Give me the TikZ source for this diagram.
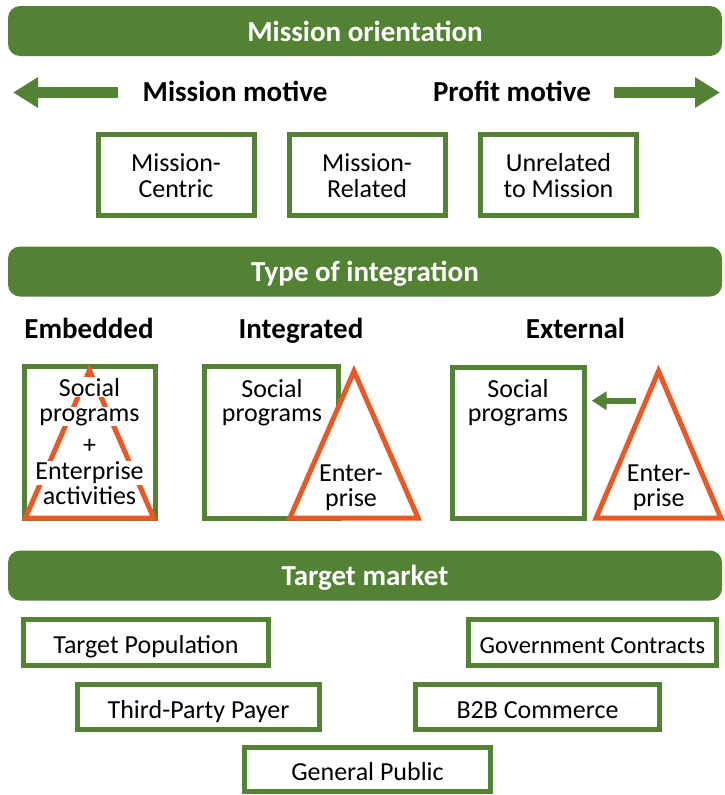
\documentclass[tikz,border=0pt]{standalone}
\usepackage{fontspec}
\setmainfont{Carlito}
\usetikzlibrary{arrows.meta}
\definecolor{grn}{RGB}{84,130,53}
\definecolor{org}{RGB}{235,88,36}
\begin{document}
\begin{tikzpicture}[x=1pt,y=-1pt,
 banner/.style={fill=grn, rounded corners=12pt, minimum width=714pt, minimum height=50pt, inner sep=0pt, text=white, font=\fontsize{29}{30}\selectfont\bfseries, text height=20pt, text depth=0pt},
 head/.style={anchor=base, font=\fontsize{29}{30}\selectfont\bfseries, inner sep=0pt},
 gbox/.style={draw=grn, line width=5pt, fill=white, inner sep=0pt, font=\fontsize{26}{26}\selectfont},
 topbox/.style={gbox, minimum width=156pt, minimum height=81pt},
 lowbox/.style={gbox, minimum height=46pt, text height=22pt, text depth=0pt},
 txt/.style={anchor=base, inner sep=0pt, font=\fontsize{26}{26}\selectfont},
 wtxt/.style={txt, fill=white, inner sep=1pt},
 tri/.style={draw=org, line width=5pt, fill=white},
 bigarrow/.style={draw=grn, line width=11pt, -{Triangle[length=25pt,width=29pt]}},
 smallarrow/.style={draw=grn, line width=6pt, -{Triangle[length=15pt,width=18pt]}}
]
\useasboundingbox (0,0) rectangle (724,795);

% banners
\node[banner] (b1) at (365,31) {Mission orientation};
\node[banner] (b2) at (365,271.5) {Type of integration};
\node[banner] (b3) at (365,575.5) {Target market};

% motives
\coordinate (la0) at (118,92.5);
\coordinate (la1) at (13,92.5);
\coordinate (ra0) at (614,92.5);
\coordinate (ra1) at (720,92.5);
\draw[bigarrow] (la0) -- (la1);
\draw[bigarrow] (ra0) -- (ra1);
\node[head] (mm) at (235,101) {Mission motive};
\node[head] (pm) at (512,101) {Profit motive};

% mission boxes
\node[topbox] (mc) at (176,175) {};
\node[topbox] (mr) at (367,175) {};
\node[topbox] (um) at (558.5,175) {};
\node[txt] (mc1) at (mc.center) [yshift=3.5pt] {Mission-};
\node[txt] (mc2) at (mc.center) [yshift=-22.5pt] {Centric};
\node[txt] (mr1) at (mr.center) [yshift=3.5pt] {Mission-};
\node[txt] (mr2) at (mr.center) [yshift=-22.5pt] {Related};
\node[txt] (um1) at (um.center) [yshift=3.5pt] {Unrelated};
\node[txt] (um2) at (um.center) [yshift=-22.5pt] {to Mission};

% integration headings
\node[head] (he) at (89,338.5) {Embedded};
\node[head] (hi) at (301,338.5) {Integrated};
\node[head] (hx) at (575.5,338.5) {External};

% embedded
\node[gbox, minimum width=131pt, minimum height=151.5pt] (eb) at (90,442.5) {};
\coordinate (e1) at (89.5,370.3);
\coordinate (e2) at (25.3,518.2);
\coordinate (e3) at (153.7,518.2);
\draw[tri, fill=none] (e1) -- (e2) -- (e3) -- cycle;
\node[wtxt] (et1) at (89.5,396.3) {Social};
\node[wtxt] (et2) at (89.5,421) {programs};
\node[txt, anchor=center, fill=white, inner sep=1pt] (et3) at (89.5,446) {+};
\node[wtxt] (et4) at (89.5,479.5) {Enterprise};
\node[wtxt] (et5) at (89.5,504.5) {activities};

% integrated
\node[gbox, minimum width=134pt, minimum height=151.5pt] (ib) at (271.5,442.5) {};
\coordinate (i1) at (354,371.2);
\coordinate (i2) at (289.8,518.2);
\coordinate (i3) at (418.2,518.2);
\draw[tri] (i1) -- (i2) -- (i3) -- cycle;
\node[txt] (it1) at (272,397) {Social};
\node[txt] (it2) at (272,421.5) {programs};
\node[txt] (it3) at (351,481.5) {Enter-};
\node[txt] (it4) at (351,506.5) {prise};

% external
\node[gbox, minimum width=132pt, minimum height=151.5pt] (xb) at (518.7,442.8) {};
\coordinate (x1) at (658.5,371.2);
\coordinate (x2) at (596,518.2);
\coordinate (x3) at (721,518.2);
\draw[tri] (x1) -- (x2) -- (x3) -- cycle;
\node[txt] (xt1) at (518,397) {Social};
\node[txt] (xt2) at (518,421.5) {programs};
\node[txt] (xt3) at (658.7,481.5) {Enter-};
\node[txt] (xt4) at (658.7,506.5) {prise};
\coordinate (xa0) at (636,400.7);
\coordinate (xa1) at (591.7,400.7);
\draw[smallarrow] (xa0) -- (xa1);

% target market
\node[lowbox, minimum width=245pt] (tp) at (146,642.5) {Target Population};
\node[lowbox, minimum width=248pt, font=\fontsize{24.5}{26}\selectfont] (gc) at (592.5,642.5) {Government Contracts};
\node[lowbox, minimum width=242pt, minimum height=45pt] (tpp) at (198.5,707) {Third-Party Payer};
\node[lowbox, minimum width=244pt, minimum height=45pt] (bb) at (537.5,707) {B2B Commerce};
\node[lowbox, minimum width=246pt, minimum height=44pt] (gp) at (367.5,769.5) {General Public};
\end{tikzpicture}
\end{document}
